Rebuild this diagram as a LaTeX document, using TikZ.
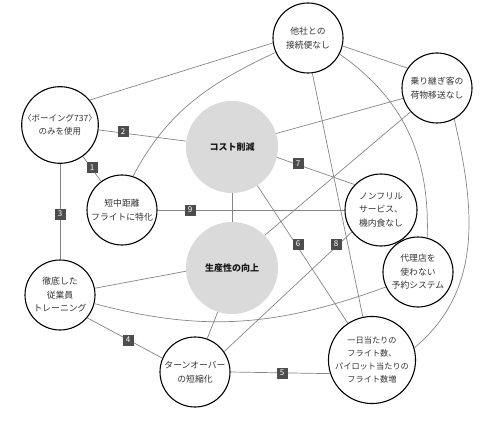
\documentclass[tikz,border=0pt]{standalone}
\usepackage{fontspec}
\setmainfont{Noto Sans CJK JP}
\definecolor{linkgray}{HTML}{858585}
\definecolor{numgray}{HTML}{4D4D4D}
\definecolor{hubgray}{HTML}{DADADA}
\definecolor{txtgray}{HTML}{333333}
\begin{document}
\begin{tikzpicture}[x=1pt,y=-1pt,
  circ/.style={circle, draw=black, line width=1.1pt, fill=white, inner sep=0pt,
    minimum size=70pt, align=center, text=txtgray, font=\fontsize{8.8}{13.5}\selectfont},
  hub/.style={circle, fill=hubgray, inner sep=0pt, minimum size=92pt,
    font=\bfseries\fontsize{9}{12}\selectfont, text=black!90},
  link/.style={draw=linkgray, line width=0.7pt},
  num/.style={fill=numgray, text=white, minimum size=11pt, inner sep=0pt,
    font=\fontsize{8}{8}\selectfont}]
\useasboundingbox (0,0) rectangle (500,422);
% nodes
\node[circ] (tasha) at (308,38) {他社との\\接続便なし};
\node[circ] (nori) at (437,88) {乗り継ぎ客の\\荷物移送なし};
\node[circ, font=\fontsize{8.5}{13.5}\selectfont] (boeing) at (60,125) {〈ボーイング737〉\\のみを使用};
\node[hub] (cost) at (232,147) {コスト削減};
\node[circ] (tanchu) at (122,210) {短中距離\\フライトに特化};
\node[circ, minimum size=72pt] (nofrill) at (381,210) {ノンフリル\\サービス、\\機内食なし};
\node[hub] (seisan) at (232,268) {生産性の向上};
\node[circ] (dairi) at (418,272) {代理店を\\使わない\\予約システム};
\node[circ] (train) at (60,295) {徹底した\\従業員\\トレーニング};
\node[circ] (turn) at (195,372) {ターンオーバー\\の短縮化};
\node[circ, minimum size=86pt, font=\fontsize{8.2}{13}\selectfont] (ichi) at (372,360) {一日当たりの\\フライト数、\\パイロット当たりの\\フライト数増};
% connectors
\draw[link] (boeing) -- (tanchu);
\draw[link] (boeing) -- (cost);
\draw[link] (boeing) -- (train);
\draw[link] (train.-40) -- (turn.157);
\draw[link] (turn.east) -- (ichi.198);
\draw[link] (cost) -- (ichi);
\draw[link] (cost.-13) -- (nofrill.136);
\draw[link] (turn.35) -- (nofrill.217);
\draw[link] (tanchu.east) -- (nofrill.west);
\draw[link] (cost) -- (seisan);
\draw[link] (boeing.40) -- (tasha.188);
\draw[link] (tasha.204) to[out=205,in=62] (tanchu.72);
\draw[link] (tasha.-13) -- (nori.146);
\draw[link] (tasha.-83) -- (ichi.102);
\draw[link] (tasha.-27) to[out=-35,in=88] (dairi.75);
\draw[link] (nori.-61) to[out=-77,in=40] (ichi.16);
\draw[link] (cost.17) -- (nori.197);
\draw[link] (nori.222) -- (seisan.45);
\draw[link] (train.11) -- (seisan.184);
\draw[link] (seisan.252) -- (turn.70);
\draw[link] (train.-14) to[out=-15,in=200] (dairi.205);
% number labels
\node[num] (n1) at (92,168) {1};
\node[num] (n2) at (123,132) {2};
\node[num] (n3) at (60,214) {3};
\node[num] (n4) at (128,340) {4};
\node[num] (n5) at (282,373) {5};
\node[num] (n6) at (298,244) {6};
\node[num] (n7) at (298,164) {7};
\node[num] (n8) at (336,244) {8};
\node[num] (n9) at (190,210) {9};
\end{tikzpicture}
\end{document}
